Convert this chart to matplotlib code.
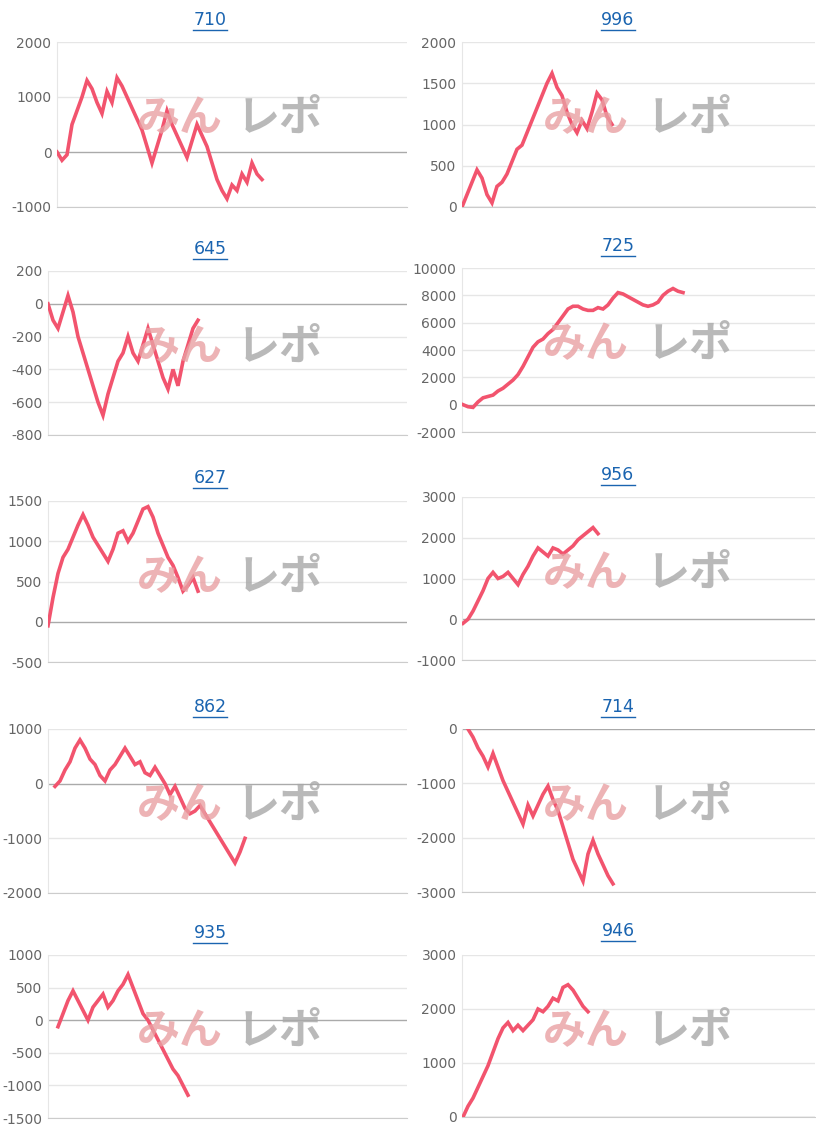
import matplotlib
matplotlib.use("Agg")
import matplotlib.pyplot as plt
from matplotlib.lines import Line2D
import matplotlib.transforms as mtransforms

titles = ["710", "996", "645", "725", "627", "956", "862", "714", "935", "946"]

s710 = [0,-150,-50,500,750,1000,1300,1150,900,700,1100,900,1350,1200,1000,800,600,400,100,-200,100,400,750,500,300,100,-100,200,500,300,100,-200,-500,-700,-850,-600,-700,-400,-550,-200,-400,-500]
s996 = [0,150,300,450,350,150,50,250,300,400,550,700,750,900,1050,1200,1350,1500,1620,1450,1350,1150,1000,900,1050,950,1150,1380,1300,1100,1000]
s645 = [0,-100,-150,-50,50,-50,-200,-300,-400,-500,-600,-680,-550,-450,-350,-300,-200,-300,-350,-250,-150,-250,-350,-450,-520,-400,-500,-350,-250,-150,-100]
s725 = [0,-150,-200,200,500,600,700,1000,1200,1500,1800,2200,2800,3500,4200,4600,4800,5200,5500,6000,6500,7000,7200,7200,7000,6900,6900,7100,7000,7300,7800,8200,8100,7900,7700,7500,7300,7200,7300,7500,8000,8300,8500,8300,8200]
s627 = [-50,300,600,800,900,1050,1200,1330,1200,1050,950,850,750,900,1100,1130,1000,1100,1250,1400,1430,1300,1100,950,800,700,550,380,450,550,380]
s956 = [-100,0,200,450,700,1000,1150,1000,1050,1150,1000,850,1100,1300,1550,1750,1650,1550,1750,1700,1600,1700,1800,1950,2050,2150,2250,2100]
s862 = [-50,50,250,400,650,800,650,450,350,150,50,250,350,500,650,500,350,400,200,150,300,150,0,-200,-50,-250,-450,-550,-500,-400,-550,-700,-850,-1000,-1150,-1300,-1450,-1250,-1000]
s714 = [0,-150,-350,-500,-700,-450,-700,-950,-1150,-1350,-1550,-1750,-1400,-1600,-1400,-1200,-1050,-1300,-1500,-1800,-2100,-2400,-2600,-2800,-2300,-2050,-2300,-2500,-2700,-2850]
s935 = [-100,100,300,450,300,150,0,200,300,400,200,300,450,550,700,500,300,100,0,-150,-300,-450,-600,-750,-850,-1000,-1150]
s946 = [0,200,350,550,750,950,1200,1450,1650,1750,1600,1700,1600,1700,1800,2000,1950,2050,2200,2150,2400,2450,2350,2200,2050,1950]
series = [s710, s996, s645, s725, s627, s956, s862, s714, s935, s946]

yticks = [
    [-1000, 0, 1000, 2000],
    [0, 500, 1000, 1500, 2000],
    [-800, -600, -400, -200, 0, 200],
    [-2000, 0, 2000, 4000, 6000, 8000, 10000],
    [-500, 0, 500, 1000, 1500],
    [-1000, 0, 1000, 2000, 3000],
    [-2000, -1000, 0, 1000],
    [-3000, -2000, -1000, 0],
    [-1500, -1000, -500, 0, 500, 1000],
    [0, 1000, 2000, 3000],
]

# layout in pixels: (left, right, top, bottom, title_y, line_start_x)
boxes = [
    (57, 407, 42, 207, 20, 57), (462, 815, 42, 207, 20, 462),
    (48, 407, 271, 435, 249, 48), (462, 815, 268, 432, 246, 463),
    (48, 407, 501, 662, 478, 48), (462, 815, 497, 660, 475, 463),
    (48, 407, 729, 893, 707, 55), (462, 815, 729, 892, 707, 468),
    (48, 407, 955, 1118, 933, 58), (462, 815, 955, 1117, 931, 463),
]
# watermark centres in pixels (x of みん, x of レポ, y offset from axes top)
wm_left = [(180, 280), (586, 690)]

W, H = 816, 1140
fig = plt.figure(figsize=(W/100, H/100), dpi=100)
fig.patch.set_facecolor("white")
step = 5.0
for i in range(10):
    l, r, t, b, ty, sx = boxes[i]
    ax = fig.add_axes([l/W, 1-b/H, (r-l)/W, (b-t)/H])
    y = series[i]
    x0 = (sx - l)/step
    xs = [x0 + k for k in range(len(y))]
    ax.plot(xs, y, color="#f2546e", lw=2.6, zorder=3, solid_joinstyle="miter")
    ax.set_xlim(0, (r-l)/step)
    yt = yticks[i]
    ax.set_ylim(yt[0], yt[-1])
    ax.set_yticks(yt)
    ax.set_yticklabels([str(v) for v in yt])
    ax.set_xticks([])
    ax.tick_params(axis="y", length=0, labelsize=10, labelcolor="#666666", pad=4)
    for v in yt:
        ax.axhline(v, color="#aaaaaa" if v == 0 else "#e6e6e6", lw=1, zorder=1)
    for s in ["top", "right"]:
        ax.spines[s].set_visible(False)
    ax.spines["left"].set_color("#e6e6e6")
    ax.spines["bottom"].set_color("#cccccc")
    # watermark (skewed for italic look)
    mx, rx = wm_left[i % 2]
    wy = 1 - (t + 76)/H
    for txt, px, col in [("みん", mx, "#e9a0a3"), ("レポ", rx, "#a8a8a8")]:
        tr = mtransforms.Affine2D().skew_deg(-15, 0)
        tobj = fig.text(px/W, wy, txt, fontsize=31, fontweight="bold", color=col, alpha=0.8,
                        family=["Noto Sans CJK JP"], ha="center", va="center", zorder=2)
    # title
    tx = 210/W if i % 2 == 0 else 618/W
    fig.text(tx, 1-ty/H, titles[i], color="#1a64b0", fontsize=12.5, ha="center", va="center")
    fig.add_artist(Line2D([tx-17/W, tx+17/W], [1-(ty+10)/H]*2, color="#1a64b0", lw=1))

fig.savefig("out.png", dpi=100)
